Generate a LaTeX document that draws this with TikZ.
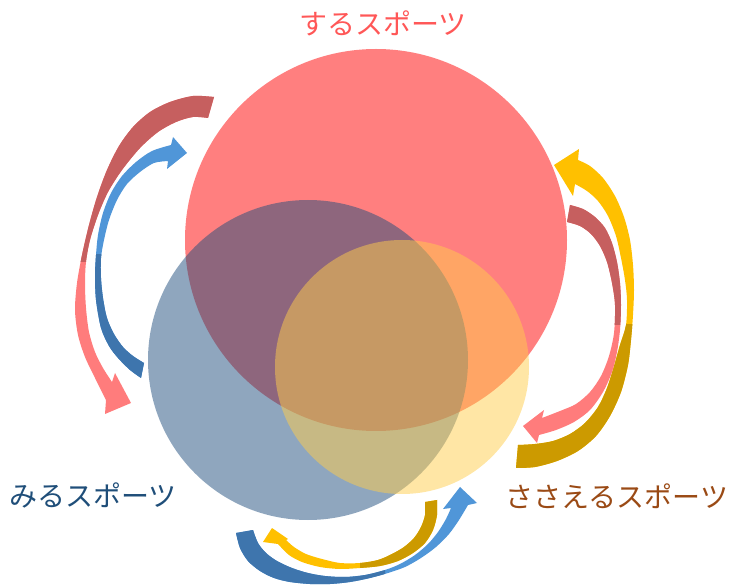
\documentclass[tikz,border=0pt]{standalone}
\usepackage{fontspec}
\newfontfamily\jp{Noto Sans CJK JP}
\definecolor{cred}{RGB}{255,0,0}
\definecolor{cblue}{RGB}{31,78,125}
\definecolor{cyel}{RGB}{255,205,75}
\definecolor{adred}{RGB}{198,95,95}
\definecolor{apink}{RGB}{255,124,124}
\definecolor{alblue}{RGB}{80,150,216}
\definecolor{adblue}{RGB}{62,117,173}
\definecolor{ayel}{RGB}{255,192,0}
\definecolor{agold}{RGB}{204,154,0}
\definecolor{tred}{RGB}{255,87,87}
\definecolor{tblue}{RGB}{31,78,121}
\definecolor{tbrown}{RGB}{154,74,21}
\tikzset{
  lbl/.style={font=\jp\fontsize{28}{32}\selectfont, inner sep=0pt, anchor=center},
  venn/.style={fill opacity=0.5},
  arrLO/.style={insert path={
    plot[smooth] coordinates {(214,97) (193,96) (170,102) (150,112) (133,127) (119,146) (107,170) (97,197) (89,225) (82,255) (77,283) (75,310) (78,335) (85,357) (95,378) (106,400)}
    -- (105,414) -- (131,403) -- (115,373)
    -- plot[smooth] coordinates {(112,382) (103,368) (95,352) (89,332) (86,308) (85,284) (86,262) (90,240) (98,215) (108,192) (122,170) (140,148) (158,132) (176,122) (193,117) (208,118)} -- cycle}},
  arrLI/.style={insert path={
    plot[smooth] coordinates {(141,378) (130,370) (118,358) (109,346) (101,328) (96,300) (95,275) (96,255) (98,235) (103,213) (111,193) (122,176) (136,162) (152,151) (171,145)}
    -- (173,137) -- (187,153) -- (167,169)
    -- plot[smooth] coordinates {(168,161) (154,163) (140,172) (127,184) (117,200) (109,220) (104,240) (101,258) (101,278) (103,298) (107,318) (114,334) (123,347) (133,356) (144,363)} -- cycle}},
  arrRO/.style={insert path={
    plot[smooth] coordinates {(578,160) (590,166) (603,178) (615,196) (624,217) (630,240) (633,265) (634,290) (633,315) (631,340) (628,365) (621,392) (610,416) (596,436) (578,451) (557,461) (535,467) (516,468)}
    -- plot[smooth] coordinates {(518,445) (535,444) (553,441) (570,434) (585,423) (598,407) (607,388) (614,366) (620,345) (626,325) (627,300) (625,280) (621,258) (616,236) (608,216) (598,201) (587,191) (575,184)}
    -- (573,196) -- (554,165) -- (579,149) -- cycle}},
  arrRI/.style={insert path={
    plot[smooth] coordinates {(570,205) (583,209) (595,217) (605,228) (612,243) (617,262) (620,283) (621,305) (620,330) (617,352) (612,372) (603,392) (590,410) (574,422) (556,430) (539,435)}
    -- (537,443) -- (523,426) -- (544,410)
    -- plot[smooth] coordinates {(542,418) (560,411) (576,404) (590,392) (601,376) (609,356) (614,333) (615,305) (612,283) (607,262) (600,246) (591,234) (580,226) (567,222)} -- cycle}},
  arrBO/.style={insert path={
    plot[smooth] coordinates {(236,533) (240,548) (248,561) (260,571) (274,578) (290,582) (310,584) (330,584) (350,582) (370,578) (388,573) (405,567) (421,558) (436,547) (449,534) (459,520) (468,505)}
    -- (477,503) -- (460,487) -- (443,509)
    -- plot[smooth] coordinates {(451,508) (446,519) (438,532) (428,544) (415,555) (400,564) (385,570) (365,575) (345,577) (325,576) (308,573) (292,568) (277,561) (266,553) (258,543) (253,530)} -- cycle}},
  arrBI/.style={insert path={
    plot[smooth] coordinates {(437,500) (437,515) (433,530) (425,543) (413,553) (398,561) (380,566) (360,568) (340,569) (320,567) (302,562) (289,555) (278,544)}
    -- (263,542) -- (272,528) -- (288,539)
    -- plot[smooth] coordinates {(286,540) (294,547) (306,554) (322,559) (340,563) (360,563) (378,560) (392,554) (404,547) (414,538) (421,527) (425,515) (425,502)} -- cycle}}
}
\begin{document}
\begin{tikzpicture}[x=1pt,y=-1pt]
\useasboundingbox (0,0) rectangle (729,585);
% circles
\fill[venn, cred] (376,240) circle[radius=191pt];
\fill[venn, cblue] (308,360) circle[radius=160pt];
\fill[venn, cyel] (402,367) circle[radius=127pt];

% left outer arrow
\fill[apink, arrLO];
\begin{scope}\clip (0,0) rectangle (300,262); \fill[adred, arrLO]; \end{scope}
% left inner arrow
\fill[alblue, arrLI];
\begin{scope}\clip (0,255) rectangle (300,420); \fill[adblue, arrLI]; \end{scope}
% right outer arrow
\fill[ayel, arrRO];
\begin{scope}\clip (450,325) rectangle (729,480); \fill[agold, arrRO]; \end{scope}
% right inner arrow
\fill[apink, arrRI];
\begin{scope}\clip (450,150) rectangle (729,325); \fill[adred, arrRI]; \end{scope}
% bottom outer arrow
\fill[alblue, arrBO];
\begin{scope}\clip (200,480) rectangle (385,585); \fill[adblue, arrBO]; \end{scope}
% bottom inner arrow
\fill[ayel, arrBI];
\begin{scope}\clip (360,480) rectangle (500,585); \fill[agold, arrBI]; \end{scope}

% labels
\node[lbl, text=tred] (suru) at (383,23) {するスポーツ};
\node[lbl, text=tblue] (miru) at (93,495) {みるスポーツ};
\node[lbl, text=tbrown] (sasaeru) at (617,496) {ささえるスポーツ};
\end{tikzpicture}
\end{document}
